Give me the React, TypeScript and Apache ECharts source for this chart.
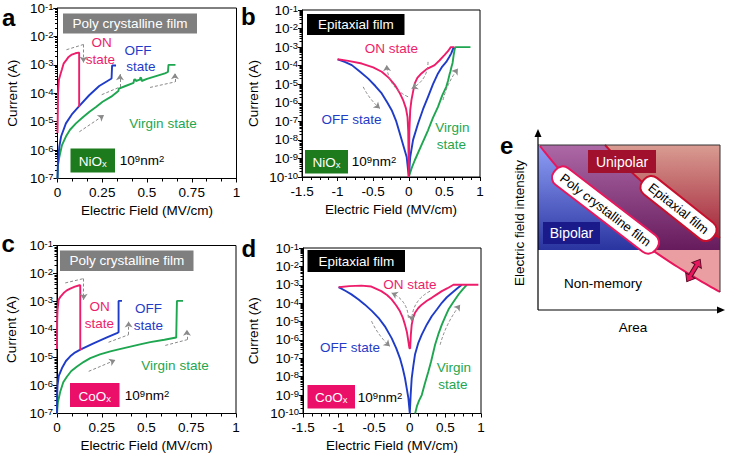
import React, { useEffect, useRef } from 'react';
import * as echarts from 'echarts';

const FONT = "'Liberation Sans', Arial, Helvetica, sans-serif";
const PINK = '#ee1d6b';
const BLUE = '#1f3cc8';
const GREEN = '#1ea650';
const ARROW = '#8a8a8a';
const LBL = 13.5;

// ---------- Panel a : NiOx poly crystalline ----------
const aVirgin = [[0,1e-7],[0.003,3e-7],[0.01,5.6e-7],[0.025,1.5e-6],[0.047,3e-6],[0.07,5.2e-6],[0.103,8.7e-6],[0.14,1.4e-5],[0.177,2.2e-5],[0.215,3.3e-5],[0.252,5e-5],[0.3,7.6e-5],[0.34,1.2e-4],[0.343,1.45e-4],[0.38,1.8e-4],[0.425,2.3e-4],[0.428,3.0e-4],[0.435,3.1e-4],[0.438,2.7e-4],[0.46,3.0e-4],[0.463,3.6e-4],[0.468,3.4e-4],[0.47,2.7e-4],[0.5,3.2e-4],[0.55,4.0e-4],[0.6,5.0e-4],[0.617,5.6e-4],[0.62,1e-3],[0.659,1e-3]];
const aOff = [[0,1e-7],[0.002,3e-7],[0.005,6e-7],[0.01,1.3e-6],[0.02,3e-6],[0.047,8.7e-6],[0.08,1.8e-5],[0.121,3.5e-5],[0.177,8.5e-5],[0.233,1.8e-4],[0.27,2.5e-4],[0.302,3.3e-4],[0.305,9.5e-4],[0.327,9.5e-4]];
const aOn = [[0,4e-6],[0.001,1e-5],[0.003,1e-4],[0.008,3e-4],[0.015,4.3e-4],[0.025,7e-4],[0.034,1.1e-3],[0.05,1.5e-3],[0.062,1.9e-3],[0.08,2.3e-3],[0.1,2.55e-3],[0.118,2.7e-3],[0.121,2.6e-3],[0.121,3.3e-5]];
const annA = [
  [[0.05,3.4e-3],[0.145,5.2e-3],[0.145,1.2e-3]],
  [[0.247,8.9e-5],[0.349,1.66e-4],[0.349,4.7e-4]],
  [[0.517,1.6e-4],[0.656,2.5e-4],[0.656,5.1e-4]],
  [[0.122,4.4e-6],[0.26,1.7e-5]],
];

// ---------- Panel b : NiOx epitaxial ----------
const bVirgin = [[0,1e-10],[0.04,3e-10],[0.084,8e-10],[0.17,4.5e-9],[0.27,3.3e-8],[0.34,1.6e-7],[0.41,6e-7],[0.47,2.5e-6],[0.526,7.2e-6],[0.55,1.5e-5],[0.57,3.1e-5],[0.585,5e-5],[0.6,8.7e-5],[0.615,1.4e-4],[0.63,3.7e-4],[0.645,8e-4],[0.655,1e-3],[0.866,1e-3]];
const bOff = [[-1,2.2e-4],[-0.9,1.6e-4],[-0.8,1.07e-4],[-0.68,4.5e-5],[-0.57,2e-5],[-0.47,8e-6],[-0.38,3.2e-6],[-0.3,1e-6],[-0.24,4e-7],[-0.18,1.1e-7],[-0.126,2.2e-8],[-0.07,4e-9],[-0.03,1.2e-9],[0,1e-10],[0.02,1.2e-9],[0.06,1e-8],[0.13,7.6e-8],[0.2,4.5e-7],[0.27,2.1e-6],[0.34,1e-5],[0.41,3.8e-5],[0.47,9e-5],[0.526,1.6e-4],[0.57,3e-4],[0.596,4.6e-4],[0.63,1e-3]];
const bOn = [[-1,2.2e-4],[-0.85,1.8e-4],[-0.66,1.3e-4],[-0.5,8e-5],[-0.38,4.7e-5],[-0.28,2.2e-5],[-0.195,9e-6],[-0.13,3.5e-6],[-0.08,1.4e-6],[-0.04,5e-7],[-0.018,1.7e-7],[-0.008,3e-8],[0,1e-10],[0.008,3e-8],[0.02,4e-7],[0.037,1.4e-6],[0.06,4e-6],[0.084,1.1e-5],[0.12,2.2e-5],[0.177,3.8e-5],[0.25,6.5e-5],[0.363,1.07e-4],[0.43,1.9e-4],[0.5,3.7e-4],[0.55,6e-4],[0.59,1e-3],[0.64,1e-3]];
const annB = [
  { from: [-0.01,2.1e-6], to: [-0.31,1.07e-4], curve: 0.3 },
  { from: [0.27,1.6e-4], to: [0.04,5.9e-6], curve: 0.3 },
  { from: [-0.64,7.2e-6], to: [-0.405,4.9e-7], curve: -0.1 },
  { from: [0.48,1.4e-6], to: [0.69,7e-5], curve: 0.1 },
];

// ---------- Panel c : CoOx poly crystalline ----------
const cVirgin = [[0,1e-7],[0.005,2.5e-7],[0.018,6e-7],[0.035,1.3e-6],[0.056,2.1e-6],[0.08,3.3e-6],[0.112,4.8e-6],[0.15,7e-6],[0.186,9.5e-6],[0.24,1.3e-5],[0.298,1.66e-5],[0.35,2e-5],[0.41,2.45e-5],[0.47,3e-5],[0.521,3.55e-5],[0.6,4.3e-5],[0.666,5.2e-5],[0.67,1.05e-3],[0.704,1.05e-3]];
const cOff = [[0,1e-7],[0.001,5e-7],[0.003,1e-6],[0.01,2.2e-6],[0.028,4.2e-6],[0.05,7.5e-6],[0.074,1.1e-5],[0.1,1.5e-5],[0.13,1.9e-5],[0.204,3.2e-5],[0.279,5.2e-5],[0.335,7.4e-5],[0.344,8e-5],[0.344,1.05e-3],[0.363,1.05e-3]];
const cOn = [[0,2e-5],[0.001,2e-4],[0.003,5e-4],[0.009,1.15e-3],[0.02,1.5e-3],[0.037,2e-3],[0.055,2.5e-3],[0.074,2.9e-3],[0.1,3.4e-3],[0.126,3.8e-3],[0.13,3.8e-3],[0.13,1.9e-5],[0.14,2.1e-5]];
const annC = [
  [[0.046,4.6e-3],[0.149,6.6e-3],[0.149,1.15e-3]],
  [[0.288,3.5e-5],[0.4,6.5e-5],[0.4,1.95e-4]],
  [[0.605,2.7e-5],[0.726,4.3e-5],[0.726,9.8e-5]],
  [[0.177,3.2e-6],[0.326,8.1e-6]],
];

// ---------- Panel d : CoOx epitaxial ----------
const dVirgin = [[0.075,1e-10],[0.1,2.5e-10],[0.13,5e-10],[0.168,1e-9],[0.21,4e-9],[0.261,1.95e-8],[0.3,7e-8],[0.355,5.5e-7],[0.4,2e-6],[0.45,6.8e-6],[0.5,1.9e-5],[0.543,4.5e-5],[0.6,1e-4],[0.684,2.95e-4],[0.74,5.5e-4],[0.8,1e-3]];
const dOff = [[-1,7.4e-4],[-0.9,4.6e-4],[-0.82,3e-4],[-0.72,1.6e-4],[-0.63,8.3e-5],[-0.53,3.7e-5],[-0.44,1.6e-5],[-0.35,5.5e-6],[-0.255,1.26e-6],[-0.19,3.5e-7],[-0.138,1e-7],[-0.1,3e-8],[-0.068,8.5e-9],[-0.04,2e-9],[-0.02,6.8e-10],[0,1e-10],[0.012,1e-9],[0.027,8.5e-9],[0.05,4e-8],[0.073,1.6e-7],[0.12,7e-7],[0.168,1.95e-6],[0.24,7e-6],[0.308,1.95e-5],[0.38,4.5e-5],[0.45,1.05e-4],[0.52,2.1e-4],[0.59,3.6e-4],[0.66,6e-4],[0.73,1e-3]];
const dOn = [[-1,7.4e-4],[-0.85,8.5e-4],[-0.68,9e-4],[-0.54,8e-4],[-0.4,4.5e-4],[-0.32,2.8e-4],[-0.255,1.6e-4],[-0.19,7.5e-5],[-0.138,3.6e-5],[-0.1,1.7e-5],[-0.068,6.8e-6],[-0.04,2.6e-6],[-0.02,8.5e-7],[-0.005,3.5e-7],[0.005,3.5e-7],[0.015,2e-6],[0.027,6.8e-6],[0.05,1.8e-5],[0.073,3e-5],[0.12,5.5e-5],[0.168,8.3e-5],[0.24,1.35e-4],[0.308,1.95e-4],[0.38,3e-4],[0.45,4.5e-4],[0.53,6.5e-4],[0.613,1e-3],[0.963,1e-3]];
const annD = [
  { from: [-0.02,1.6e-5], to: [-0.255,3.6e-4], curve: -0.3 },
  { from: [0.285,4.5e-4], to: [0.027,1.05e-5], curve: -0.3 },
  { from: [-0.537,1.05e-5], to: [-0.28,4.5e-7], curve: -0.1 },
  { from: [0.426,5.5e-7], to: [0.707,8.3e-5], curve: 0.1 },
];

const xPoly = { min: 0, max: 1, interval: 0.25 };
const xEpi = { min: -1.5, max: 1, interval: 0.5 };

function xAx(grid: number, r: any, minor: number) {
  return {
    type: 'value', gridIndex: grid, min: r.min, max: r.max, interval: r.interval,
    name: 'Electric Field (MV/cm)', nameLocation: 'middle', nameGap: 25,
    nameTextStyle: { fontSize: 13.5, fontFamily: FONT, color: '#000' },
    axisLine: { show: true, onZero: false, lineStyle: { color: '#000', width: 1 } },
    axisTick: { show: true, length: 4, lineStyle: { color: '#000' } },
    minorTick: { show: true, splitNumber: minor, length: 3, lineStyle: { color: '#000' } },
    splitLine: { show: false },
    axisLabel: { fontSize: 13.5, fontFamily: FONT, color: '#000', margin: 7, showMinLabel: true, showMaxLabel: true },
  };
}
function yAx(grid: number, minExp: number, maxExp: number, gap: number) {
  return {
    type: 'log', logBase: 10, gridIndex: grid,
    min: Math.pow(10, minExp), max: Math.pow(10, maxExp), splitNumber: maxExp - minExp,
    name: 'Current (A)', nameLocation: 'middle', nameGap: gap,
    nameTextStyle: { fontSize: 13.5, fontFamily: FONT, color: '#000' },
    axisLine: { show: true, onZero: false, lineStyle: { color: '#000', width: 1 } },
    axisTick: { show: true, length: 4, lineStyle: { color: '#000' } },
    minorTick: { show: true, splitNumber: 9, length: 2.5, lineStyle: { color: '#000' } },
    splitLine: { show: false },
    axisLabel: {
      margin: 4, showMinLabel: true, showMaxLabel: true,
      formatter: (v: number) => `{b|10}{s|${Math.round(Math.log10(v))}}`,
      rich: {
        b: { fontSize: 13.5, fontFamily: FONT, color: '#000' },
        s: { fontSize: 9.5, fontFamily: FONT, color: '#000', verticalAlign: 'top' },
      },
    },
  };
}

function curve(data: number[][], color: string, i: number) {
  return { type: 'line', xAxisIndex: i, yAxisIndex: i, data, showSymbol: false, symbol: 'none', silent: true, lineStyle: { color, width: 1.9 }, z: 3 };
}

function annStraight(polys: number[][][], i: number) {
  const plain: any[] = [];
  const head: any[] = [];
  polys.forEach((p) => {
    for (let k = 0; k < p.length - 1; k++) {
      const seg = { coords: [p[k], p[k + 1]] };
      if (k === p.length - 2) head.push(seg); else plain.push(seg);
    }
  });
  const base = { type: 'lines', coordinateSystem: 'cartesian2d', xAxisIndex: i, yAxisIndex: i, silent: true, z: 4,
    lineStyle: { color: ARROW, width: 1, type: [3, 2], opacity: 1 } };
  return [
    { ...base, symbol: ['none', 'none'], data: plain },
    { ...base, symbol: ['none', 'arrow'], symbolSize: 6, data: head },
  ];
}
function annCurved(list: any[], i: number) {
  return { type: 'lines', coordinateSystem: 'cartesian2d', xAxisIndex: i, yAxisIndex: i, silent: true, z: 4,
    symbol: ['none', 'arrow'], symbolSize: 6,
    lineStyle: { color: ARROW, width: 1, type: [3, 2], opacity: 1 },
    data: list.map((a) => ({ coords: [a.from, a.to], lineStyle: { curveness: a.curve } })) };
}

// ---------- graphic helpers ----------
function txt(x: number, y: number, text: string, fill: string, size = LBL, extra: any = {}) {
  return { type: 'text', x, y, z: 100, silent: true,
    style: { text, fill, fontSize: size, fontFamily: FONT, align: 'center', verticalAlign: 'middle', textAlign: 'center', textVerticalAlign: 'middle', ...extra } };
}
function rect(x: number, y: number, w: number, h: number, fill: string) {
  return { type: 'rect', z: 99, silent: true, shape: { x, y, width: w, height: h }, style: { fill } };
}
function oxide(x: number, y: number, w: number, h: number, fill: string, name: string) {
  return [rect(x, y, w, h, fill), { type: 'text', x: x + w / 2, y: y + h / 2 + 1, z: 100, silent: true,
    style: { text: `{m|${name}}{x|x}`, align: 'center', verticalAlign: 'middle', textAlign: 'center', textVerticalAlign: 'middle',
      rich: { m: { fontSize: 13.5, fontFamily: FONT, fill: '#fff' }, x: { fontSize: 9.5, fontFamily: FONT, fill: '#fff', verticalAlign: 'bottom' } } } }];
}
function area(x: number, y: number) {
  return { type: 'text', x, y, z: 100, silent: true,
    style: { text: '{n|10}{s|9}{n|nm}{s|2}', align: 'center', verticalAlign: 'middle', textAlign: 'center', textVerticalAlign: 'middle',
      rich: { n: { fontSize: 13.5, fontFamily: FONT, fill: '#000' }, s: { fontSize: 9.5, fontFamily: FONT, fill: '#000', verticalAlign: 'top' } } } };
}
function letter(x: number, y: number, t: string) {
  return { type: 'text', x, y, z: 100, silent: true,
    style: { text: t, fill: '#000', fontSize: 24, fontWeight: 'bold', fontFamily: FONT, align: 'left', verticalAlign: 'middle', textAlign: 'left', textVerticalAlign: 'middle' } };
}

function qbez(p0: number[], c: number[], p2: number[], n: number) {
  const pts: number[][] = [];
  for (let i = 0; i <= n; i++) {
    const t = i / n;
    pts.push([
      (1 - t) * (1 - t) * p0[0] + 2 * (1 - t) * t * c[0] + t * t * p2[0],
      (1 - t) * (1 - t) * p0[1] + 2 * (1 - t) * t * c[1] + t * t * p2[1],
    ]);
  }
  return pts;
}

function panelE() {
  const L = 538, R = 720, T = 145, B = 310, YB = 250;
  const P0 = [540, 146], PC = [601, 226], P2 = [720, 292];
  const E0 = [605, 145], EC = [660, 205], E2 = [720, 238];
  const poly = qbez(P0, PC, P2, 80);
  const epi = qbez(E0, EC, E2, 80);
  const upper: number[][] = [];
  const lower: number[][] = [];
  for (let i = 0; i < poly.length; i++) {
    const p = poly[i];
    if (p[1] <= YB) upper.push(p);
    else {
      if (lower.length === 0) {
        const q = poly[i - 1];
        const t = (YB - q[1]) / (p[1] - q[1]);
        const cross = [q[0] + t * (p[0] - q[0]), YB];
        upper.push(cross);
        lower.push(cross);
      }
      lower.push(p);
    }
  }
  const grad = (a: string, b: string) => ({ type: 'linear', x: 0, y: 0, x2: 0, y2: 1, global: false, colorStops: [{ offset: 0, color: a }, { offset: 1, color: b }] });
  const els: any[] = [];
  els.push({ type: 'polygon', z: 90, silent: true, shape: { points: [...upper, [L, YB], [L, T]] }, style: { fill: grad('#8f9ff6', '#2a34a0') } });
  els.push({ type: 'polygon', z: 90, silent: true, shape: { points: [[P0[0], T], ...epi, [R, YB], ...upper.slice().reverse()] }, style: { fill: grad('#ad68a6', '#661b5c') } });
  els.push({ type: 'polygon', z: 90, silent: true, shape: { points: [[E0[0], T], [R, T], [R, E2[1]], ...epi.slice().reverse()] }, style: { fill: grad('#d99c92', '#a3253a') } });
  els.push({ type: 'polygon', z: 90, silent: true, shape: { points: [...lower, [R, YB]] }, style: { fill: '#eb9ea1' } });
  els.push({ type: 'polyline', z: 91, silent: true, shape: { points: poly }, style: { stroke: '#e8175d', lineWidth: 2, fill: null } });
  els.push({ type: 'polyline', z: 91, silent: true, shape: { points: epi }, style: { stroke: '#c8102e', lineWidth: 2, fill: null } });
  els.push({ type: 'polyline', z: 91, silent: true, shape: { points: [[L, T], [R, T], [R, P2[1]]] }, style: { stroke: '#333', lineWidth: 1, fill: null } });
  // axes with arrow heads
  els.push({ type: 'line', z: 92, silent: true, shape: { x1: L, y1: B, x2: L, y2: 134 }, style: { stroke: '#000', lineWidth: 1.2 } });
  els.push({ type: 'line', z: 92, silent: true, shape: { x1: L, y1: B, x2: 718, y2: B }, style: { stroke: '#000', lineWidth: 1.2 } });
  els.push({ type: 'polygon', z: 92, silent: true, shape: { points: [[L, 129], [L - 3.5, 137], [L + 3.5, 137]] }, style: { fill: '#000' } });
  els.push({ type: 'polygon', z: 92, silent: true, shape: { points: [[725, B], [717, B - 3.5], [717, B + 3.5]] }, style: { fill: '#000' } });
  // region labels
  els.push(rect(588, 150, 68, 23, '#a1102c'));
  els.push(txt(622, 161.5, 'Unipolar', '#fff', 14));
  els.push(rect(543, 222, 57, 22, '#1b1a8a'));
  els.push(txt(571.5, 233, 'Bipolar', '#fff', 14));
  els.push(txt(603, 283, 'Non-memory', '#000', 13.5));
  // rotated labels
  const ang = (d: number) => (d * Math.PI) / 180;
  els.push({ type: 'group', x: 605.5, y: 210, rotation: -ang(37.5), z: 100, children: [
    { type: 'rect', z: 100, silent: true, shape: { x: -64, y: -10.5, width: 128, height: 21, r: 9 }, style: { fill: '#fff', stroke: '#e8175d', lineWidth: 2 } },
    txt(0, 0, 'Poly crystalline film', '#000', 13),
  ] });
  els.push({ type: 'group', x: 678.5, y: 208.5, rotation: -ang(38.5), z: 100, children: [
    { type: 'rect', z: 100, silent: true, shape: { x: -45, y: -10.5, width: 90, height: 21, r: 9 }, style: { fill: '#fff', stroke: '#c8102e', lineWidth: 2 } },
    txt(0, 0, 'Epitaxial film', '#000', 13),
  ] });
  // double arrow
  els.push({ type: 'group', x: 693.5, y: 270.5, rotation: ang(59), z: 100, children: [
    { type: 'polygon', z: 100, silent: true, shape: { points: [[-13, 0], [-6, -5.5], [-6, -2], [6, -2], [6, -5.5], [13, 0], [6, 5.5], [6, 2], [-6, 2], [-6, 5.5]] },
      style: { fill: '#e8175d', stroke: '#5a0c28', lineWidth: 1 } },
  ] });
  // axis titles
  els.push({ type: 'text', x: 519.5, y: 223, rotation: ang(90), z: 100, silent: true,
    style: { text: 'Electric field intensity', fill: '#000', fontSize: 13.5, fontFamily: FONT, align: 'center', verticalAlign: 'middle', textAlign: 'center', textVerticalAlign: 'middle' } });
  els.push(txt(633, 327, 'Area', '#000', 13.5));
  els.push(letter(500, 145, 'e'));
  return els;
}

function buildOption() {
  const graphic: any[] = [
    letter(2, 17.5, 'a'), letter(241, 16.5, 'b'), letter(1.5, 243.5, 'c'), letter(241.5, 248, 'd'),
    // panel a
    rect(63, 13.5, 134, 20, '#7f7f7f'), txt(130, 23.5, 'Poly crystalline film', '#fff'),
    ...oxide(70.5, 148.5, 44.5, 24, '#1d7a1d', 'NiO'), area(142, 160),
    txt(101.5, 42.5, 'ON', PINK), txt(100.5, 59, 'state', PINK),
    txt(138, 50.5, 'OFF', BLUE), txt(141, 66, 'state', BLUE),
    txt(163, 123.5, 'Virgin state', GREEN),
    // panel b
    rect(307, 14, 97.5, 21, '#000'), txt(355.8, 24.5, 'Epitaxial film', '#fff'),
    ...oxide(305, 150, 43, 23.5, '#1d7a1d', 'NiO'), area(374, 161.5),
    txt(391.5, 48, 'ON state', PINK),
    txt(351.5, 119.5, 'OFF state', BLUE),
    txt(452.5, 127.5, 'Virgin', GREEN), txt(451.5, 144, 'state', GREEN),
    // panel c
    rect(60, 250.5, 133.5, 20.5, '#7f7f7f'), txt(126.8, 260.8, 'Poly crystalline film', '#fff'),
    ...oxide(70, 383, 49.5, 24, '#ec0f6a', 'CoO'), area(147, 395),
    txt(99.5, 306.5, 'ON', PINK), txt(99.5, 323.5, 'state', PINK),
    txt(148.5, 308.5, 'OFF', BLUE), txt(148.5, 325, 'state', BLUE),
    txt(175, 365, 'Virgin state', GREEN),
    // panel d
    rect(307.5, 250, 97.5, 22, '#000'), txt(356.3, 261, 'Epitaxial film', '#fff'),
    ...oxide(307.5, 385, 47.5, 23.5, '#ec0f6a', 'CoO'), area(380, 397),
    txt(410, 284.5, 'ON state', PINK),
    txt(350, 347.5, 'OFF state', BLUE),
    txt(454, 367.5, 'Virgin', GREEN), txt(453, 384.5, 'state', GREEN),
    ...panelE(),
  ];

  const gridBase = { show: true, borderColor: '#000', borderWidth: 1, backgroundColor: 'transparent' };
  return {
    animation: false,
    backgroundColor: '#fff',
    textStyle: { fontFamily: FONT },
    grid: [
      { ...gridBase, left: 57.5, top: 8, width: 179, height: 170.5 },
      { ...gridBase, left: 302, top: 10, width: 178, height: 167 },
      { ...gridBase, left: 57, top: 245.5, width: 179, height: 168 },
      { ...gridBase, left: 303, top: 248, width: 178, height: 165.5 },
    ],
    xAxis: [xAx(0, xPoly, 3), xAx(1, xEpi, 4), xAx(2, xPoly, 3), xAx(3, xEpi, 4)],
    yAxis: [yAx(0, -7, -1, 38), yAx(1, -10, -1, 42), yAx(2, -7, -1, 39), yAx(3, -10, -1, 43)],
    series: [
      curve(aVirgin, GREEN, 0), curve(aOff, BLUE, 0), curve(aOn, PINK, 0), ...annStraight(annA, 0),
      curve(bVirgin, GREEN, 1), curve(bOff, BLUE, 1), curve(bOn, PINK, 1), annCurved(annB, 1),
      curve(cVirgin, GREEN, 2), curve(cOff, BLUE, 2), curve(cOn, PINK, 2), ...annStraight(annC, 2),
      curve(dVirgin, GREEN, 3), curve(dOff, BLUE, 3), curve(dOn, PINK, 3), annCurved(annD, 3),
    ],
    graphic,
  };
}

export default function App() {
  const ref = useRef<HTMLDivElement>(null);
  useEffect(() => {
    const chart = echarts.init(ref.current!, null, { renderer: 'svg' });
    chart.setOption(buildOption() as any);
    return () => chart.dispose();
  }, []);
  return <div ref={ref} style={{ position: 'absolute', left: 0, top: 0, width: 730, height: 459 }} />;
}
